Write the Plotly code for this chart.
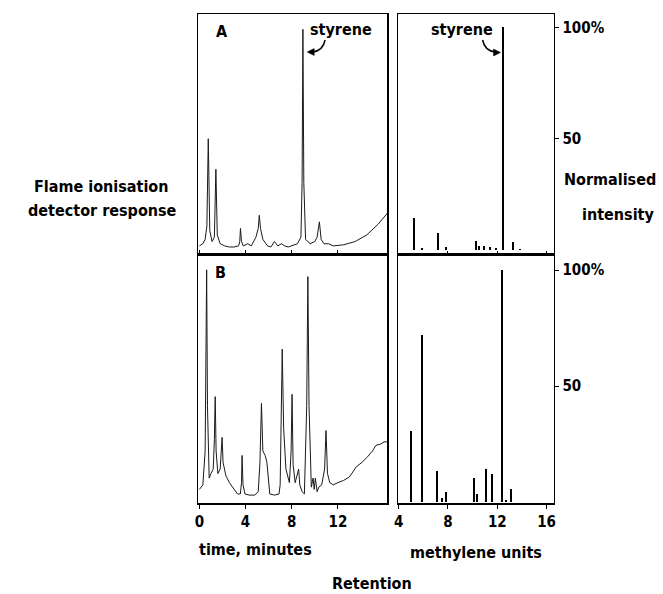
import plotly.graph_objects as go

W, H = 663, 594

# ---------------- data ----------------
# Chromatogram A (flame ionisation detector response, % of styrene peak)
time_a = [0.0, 0.3, 0.5, 0.65, 0.77, 0.9, 1.1, 1.3, 1.43, 1.55, 1.8, 2.2, 2.6, 3.0, 3.4, 3.5,
          3.56, 3.65, 3.8, 4.2, 4.5, 4.7, 4.9, 5.1, 5.19, 5.3, 5.5, 5.9, 6.2, 6.5, 6.8, 7.1,
          7.4, 7.7, 8.0, 8.5, 8.8, 8.9, 8.97, 9.05, 9.2, 9.6, 10.0, 10.2, 10.4, 10.55, 10.8,
          11.2, 11.6, 12.5, 13.5, 14.5, 15.5, 16.3]
resp_a = [1, 2, 4, 10, 50, 8, 3, 5, 36, 6, 2, 1, 0.5, 0.5, 1, 3,
          9, 3, 1, 2, 1, 3, 5, 9, 15, 9, 4, 1, 0.5, 3, 1, 2,
          1, 0.5, 1, 2, 5, 30, 100, 30, 4, 2, 3, 5, 12, 4, 2,
          2, 1, 1.5, 3, 6, 11, 16]

# Chromatogram B
time_b = [0.0, 0.3, 0.5, 0.58, 0.63, 0.7, 0.85, 1.0, 1.2, 1.3, 1.37, 1.45, 1.6, 1.8, 1.9, 1.97,
          2.05, 2.3, 2.6, 2.9, 3.3, 3.55, 3.65, 3.7, 3.78, 3.95, 4.3, 4.8, 5.1, 5.25, 5.38,
          5.5, 5.7, 5.85, 6.1, 6.5, 6.9, 7.0, 7.1, 7.18, 7.3, 7.5, 7.8, 7.95, 8.03, 8.12,
          8.3, 8.5, 8.6, 8.7, 8.9, 9.1, 9.3, 9.4, 9.5, 9.7, 9.85, 9.95, 10.05, 10.2, 10.35,
          10.6, 10.85, 10.97, 11.1, 11.3, 11.6, 12.0, 12.5, 13.0, 13.6, 14.1, 14.5, 15.0,
          15.3, 15.7, 16.0, 16.3]
resp_b = [3, 5, 20, 60, 100, 40, 8, 10, 12, 25, 44, 20, 10, 12, 20, 26,
          15, 9, 6, 4, 1, 1, 6, 18, 5, 1, 0.5, 0.5, 2, 15, 41,
          20, 18, 15, 1, 0.5, 1, 5, 30, 65, 30, 12, 6, 20, 45, 14,
          6, 10, 12, 5, 2, 1, 40, 97, 40, 4, 8, 3, 8, 2, 4,
          5, 12, 29, 10, 6, 5, 6, 7, 8.5, 13, 15, 17, 20,
          22.5, 23, 24, 24]

# Normalised intensity vs methylene units
mu_a = [5.22, 5.9, 7.18, 7.84, 10.24, 10.5, 10.9, 11.44, 11.9, 12.5, 13.26, 13.84]
int_a = [14.4, 1, 7.6, 1.5, 4, 2, 2, 1.5, 1, 100, 3.8, 0.5]

mu_b = [4.98, 5.92, 7.1, 7.52, 7.86, 10.13, 10.37, 11.12, 11.54, 12.42, 12.72, 13.12]
int_b = [30.8, 72.2, 13.2, 1.7, 4.3, 10.4, 3.2, 14.0, 12.1, 100, 1.0, 5.6]

left_ticks = [0, 4, 8, 12]
right_ticks = [4, 8, 12, 16]
int_tickvals = [50, 100]
int_ticktext = ["50", "100%"]

# ---------------- figure ----------------
FONT = "DejaVu Sans Condensed, Liberation Sans Narrow, Arial Narrow, DejaVu Sans, sans-serif"


def px(x):
    return x / W


def py(y):
    return 1 - y / H


fig = go.Figure()
line_style = dict(color="#1a1a1a", width=1)
fig.add_trace(go.Scatter(x=time_a, y=resp_a, mode="lines", line=line_style, xaxis="x", yaxis="y"))
fig.add_trace(go.Scatter(x=time_b, y=resp_b, mode="lines", line=line_style, xaxis="x2", yaxis="y2"))
fig.add_trace(go.Bar(x=mu_a, y=int_a, width=0.16, marker=dict(color="black", line=dict(width=0)),
                     xaxis="x3", yaxis="y3"))
fig.add_trace(go.Bar(x=mu_b, y=int_b, width=0.16, marker=dict(color="black", line=dict(width=0)),
                     xaxis="x4", yaxis="y4"))

left_dom = [px(196), px(387)]
right_dom = [px(398), px(555)]
top_dom = [py(254), py(14)]
bot_dom = [py(503), py(254)]

ax_common = dict(showline=True, linecolor="black", linewidth=1.5, mirror=True,
                 showgrid=False, zeroline=False, fixedrange=True)
tickfont = dict(family=FONT, size=15, color="black", weight="bold")

fig.update_layout(
    width=W, height=H, margin=dict(l=0, r=0, t=0, b=0),
    paper_bgcolor="white", plot_bgcolor="white", showlegend=False,
    font=dict(family=FONT, color="black"),
    bargap=0,
    xaxis=dict(domain=left_dom, anchor="y", range=[-0.1, 16.3], tickvals=left_ticks,
               showticklabels=False, ticks="inside", ticklen=4, tickcolor="black", **ax_common),
    yaxis=dict(domain=top_dom, anchor="x", range=[-2.7, 107], showticklabels=False, **ax_common),
    xaxis2=dict(domain=left_dom, anchor="y2", range=[-0.1, 16.3], tickvals=left_ticks,
                ticks="outside", ticklen=4, tickcolor="black", tickfont=tickfont, **ax_common),
    yaxis2=dict(domain=bot_dom, anchor="x2", range=[-3, 107], showticklabels=False, **ax_common),
    xaxis3=dict(domain=right_dom, anchor="y3", range=[3.98, 16.6], tickvals=right_ticks,
                showticklabels=False, ticks="inside", ticklen=3, tickcolor="black", **ax_common),
    yaxis3=dict(domain=top_dom, anchor="x3", range=[-1.8, 106], side="right",
                tickvals=int_tickvals, ticktext=int_ticktext, ticks="outside", ticklen=4,
                tickcolor="black", tickfont=tickfont, **ax_common),
    xaxis4=dict(domain=right_dom, anchor="y4", range=[3.98, 16.6], tickvals=right_ticks,
                ticks="outside", ticklen=4, tickcolor="black", tickfont=tickfont, **ax_common),
    yaxis4=dict(domain=bot_dom, anchor="x4", range=[-0.5, 107], side="right",
                tickvals=int_tickvals, ticktext=int_ticktext, ticks="outside", ticklen=4,
                tickcolor="black", tickfont=tickfont, **ax_common),
)


def label(text, x, y, size=16, xanchor="center"):
    fig.add_annotation(text=text, x=px(x), y=py(y), xref="paper", yref="paper",
                       showarrow=False, xanchor=xanchor, yanchor="middle",
                       font=dict(family=FONT, size=size, color="black"))


label("<b>A</b>", 220, 32)
label("<b>B</b>", 218, 272)
label("<b>styrene</b>", 340, 30)
label("<b>styrene</b>", 462, 30)
label("<b>Flame ionisation</b>", 98, 186)
label("<b>detector response</b>", 99, 210)
label("<b>Normalised</b>", 612, 180)
label("<b>intensity</b>", 620, 214)
label("<b>time, minutes</b>", 254, 549)
label("<b>methylene units</b>", 476, 552)
label("<b>Retention</b>", 371, 583)


def curve(x0, y0, cx, cy, x1, y1):
    return f"M {px(x0)},{py(y0)} Q {px(cx)},{py(cy)} {px(x1)},{py(y1)}"


def tri(pts):
    s = "M " + " L ".join(f"{px(a)},{py(b)}" for a, b in pts) + " Z"
    return s


for path in [curve(324, 40, 322, 51, 311, 52), curve(483, 40, 485, 51, 496, 52)]:
    fig.add_shape(type="path", path=path, xref="paper", yref="paper",
                  line=dict(color="black", width=1.5))
for path in [tri([(306, 52), (313, 48.5), (313, 55.5)]), tri([(501, 52.5), (494, 49), (494, 56)])]:
    fig.add_shape(type="path", path=path, xref="paper", yref="paper",
                  line=dict(color="black", width=0.5), fillcolor="black")

fig.write_html("out.html", config={"displayModeBar": False, "staticPlot": True},
               post_script="document.body.style.margin='0';document.body.style.overflow='hidden';")
